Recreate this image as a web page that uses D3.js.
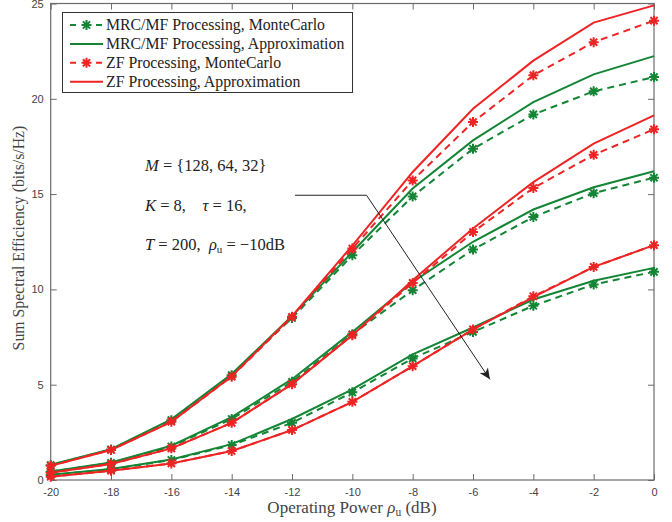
<!DOCTYPE html>
<html>
<head>
<meta charset="utf-8">
<script src="https://cdn.jsdelivr.net/npm/d3@7/dist/d3.min.js"></script>
<style>
body { margin: 0; background: #fff; }
text { white-space: pre; }
</style>
</head>
<body>
<svg id="chart" width="672" height="522"></svg>
<script>
// operating power (dB)
var power = [-20, -18, -16, -14, -12, -10, -8, -6, -4, -2, 0];
var xTicks = [-20, -18, -16, -14, -12, -10, -8, -6, -4, -2, 0];
var yTicks = [0, 5, 10, 15, 20, 25];

// M = 128
var mrcMC128 = [0.78, 1.6, 3.14, 5.5, 8.5, 11.79, 14.88, 17.38, 19.18, 20.39, 21.14];
var mrcAp128 = [0.8, 1.62, 3.18, 5.56, 8.6, 11.96, 15.29, 17.82, 19.83, 21.28, 22.24];
var zfMC128 = [0.75, 1.58, 3.06, 5.42, 8.56, 12.14, 15.72, 18.78, 21.23, 22.97, 24.1];
var zfAp128 = [0.74, 1.57, 3.05, 5.44, 8.6, 12.3, 16.16, 19.48, 22.0, 24.0, 24.9];
// M = 64
var mrcMC64 = [0.44, 0.9, 1.76, 3.2, 5.15, 7.65, 9.96, 12.09, 13.8, 15.05, 15.86];
var mrcAp64 = [0.45, 0.92, 1.8, 3.3, 5.29, 7.77, 10.39, 12.5, 14.19, 15.36, 16.2];
var zfMC64 = [0.38, 0.84, 1.66, 3.0, 5.03, 7.6, 10.34, 13.01, 15.32, 17.06, 18.4];
var zfAp64 = [0.38, 0.84, 1.66, 3.0, 5.03, 7.6, 10.48, 13.2, 15.63, 17.65, 19.13];
// M = 32
var mrcMC32 = [0.26, 0.56, 1.05, 1.83, 3.0, 4.6, 6.38, 7.77, 9.14, 10.26, 10.92];
var mrcAp32 = [0.27, 0.58, 1.08, 1.88, 3.2, 4.75, 6.59, 8.0, 9.47, 10.45, 11.13];
var zfMC32 = [0.17, 0.49, 0.87, 1.52, 2.62, 4.1, 5.97, 7.9, 9.64, 11.18, 12.32];
var zfAp32 = [0.17, 0.49, 0.87, 1.52, 2.62, 4.1, 5.97, 7.9, 9.6, 11.18, 12.32];

var legendNames = ["MRC/MF Processing, MonteCarlo", "MRC/MF Processing, Approximation",
    "ZF Processing, MonteCarlo", "ZF Processing, Approximation"];

// arrow in the middle (data coords)
var arrowPts = [[-11.9, 14.94], [-9.53, 14.94], [-5.44, 5.28]];

var green = "#138535", red = "#ee2424";
var styles = [
    {color: green, dash: true},
    {color: green, dash: false},
    {color: red, dash: true},
    {color: red, dash: false}
];
var groups = [
    [mrcMC128, mrcAp128, zfMC128, zfAp128],
    [mrcMC64, mrcAp64, zfMC64, zfAp64],
    [mrcMC32, mrcAp32, zfMC32, zfAp32]
];

// note: "top" is taken by window.top, so use pTop etc.
var pLeft = 50.7, pRight = 654, pTop = 3.5, pBottom = 480;
var svg = d3.select("#chart");

var x = d3.scaleLinear().domain([-20, 0]).range([pLeft, pRight]);
var y = d3.scaleLinear().domain([0, 25]).range([pBottom, pTop]);

var axisColor = "#6b6b6b";
var fmt = function(d) { return String(d); };

// axes, ticks inward on all four sides
function styleAxis(g) {
    g.select(".domain").remove();
    g.selectAll(".tick line").attr("stroke", axisColor);
    g.selectAll(".tick text").attr("fill", "#444")
        .attr("font-family", "Liberation Sans, Arial, sans-serif").attr("font-size", 11);
}
svg.append("g").attr("transform", "translate(0," + pBottom + ")")
    .call(d3.axisBottom(x).tickValues(xTicks).tickSize(-6).tickPadding(8).tickFormat(fmt))
    .call(styleAxis);
svg.append("g").attr("transform", "translate(0," + pTop + ")")
    .call(d3.axisTop(x).tickValues(xTicks).tickSize(-6).tickFormat(""))
    .call(styleAxis);
svg.append("g").attr("transform", "translate(" + pLeft + ",0)")
    .call(d3.axisLeft(y).tickValues(yTicks).tickSize(-6).tickPadding(7).tickFormat(fmt))
    .call(styleAxis);
svg.append("g").attr("transform", "translate(" + pRight + ",0)")
    .call(d3.axisRight(y).tickValues(yTicks).tickSize(-6).tickFormat(""))
    .call(styleAxis);

svg.append("rect")
    .attr("x", pLeft).attr("y", pTop)
    .attr("width", pRight - pLeft).attr("height", pBottom - pTop)
    .attr("fill", "none").attr("stroke", axisColor).attr("stroke-width", 1.2);

// asterisk marker (MATLAB '*')
function star(g, cx, cy, r, color) {
    var k = r * 0.72;
    var d = "M" + (cx - r) + "," + cy + "L" + (cx + r) + "," + cy +
        "M" + cx + "," + (cy - r) + "L" + cx + "," + (cy + r) +
        "M" + (cx - k) + "," + (cy - k) + "L" + (cx + k) + "," + (cy + k) +
        "M" + (cx - k) + "," + (cy + k) + "L" + (cx + k) + "," + (cy - k);
    g.append("path").attr("d", d).attr("stroke", color).attr("stroke-width", 2).attr("fill", "none");
}

var line = d3.line()
    .x(function(d, i) { return x(power[i]); })
    .y(function(d) { return y(d); });

var plot = svg.append("g");
for (var s = 0; s < 4; s++) {
    groups.forEach(function(grp) {
        var vals = grp[s];
        plot.append("path")
            .attr("d", line(vals))
            .attr("fill", "none")
            .attr("stroke", styles[s].color)
            .attr("stroke-width", 2)
            .attr("stroke-dasharray", styles[s].dash ? "7,5" : null);
        if (styles[s].dash) {
            vals.forEach(function(v, i) {
                star(plot, x(power[i]), y(v), 5, styles[s].color);
            });
        }
    });
}

// legend
var lg = svg.append("g");
lg.append("rect")
    .attr("x", 62.5).attr("y", 12.5).attr("width", 290).attr("height", 80)
    .attr("fill", "#fff").attr("stroke", "#333").attr("stroke-width", 1);
legendNames.forEach(function(name, i) {
    var ly = 25 + i * 18.9;
    lg.append("line")
        .attr("x1", 70).attr("x2", 103).attr("y1", ly).attr("y2", ly)
        .attr("stroke", styles[i].color).attr("stroke-width", 2)
        .attr("stroke-dasharray", styles[i].dash ? "6,7" : null);
    if (styles[i].dash) star(lg, 86.5, ly, 5, styles[i].color);
    lg.append("text")
        .attr("x", 106).attr("y", ly + 5)
        .attr("font-family", "Liberation Serif, Times New Roman, serif")
        .attr("font-size", 15.8).attr("fill", "#222")
        .text(name);
});

// axis labels
svg.append("text")
    .attr("transform", "translate(24,238) rotate(-90)")
    .attr("text-anchor", "middle")
    .attr("font-family", "Liberation Serif, Times New Roman, serif")
    .attr("font-size", 15.8).attr("fill", "#444")
    .text("Sum Spectral Efficiency (bits/s/Hz)");

var xl = svg.append("text")
    .attr("x", 352).attr("y", 513)
    .attr("text-anchor", "middle")
    .attr("font-family", "Liberation Serif, Times New Roman, serif")
    .attr("font-size", 17).attr("fill", "#444");
xl.append("tspan").text("Operating Power ");
xl.append("tspan").attr("font-style", "italic").text("ρ");
xl.append("tspan").attr("font-size", 11.5).attr("dy", 3).text("u");
xl.append("tspan").attr("dy", -3).text(" (dB)");

// annotation
var noteFont = "Liberation Serif, Times New Roman, serif";
function note(yy, parts) {
    var t = svg.append("text").attr("x", 145).attr("y", yy)
        .attr("font-family", noteFont).attr("font-size", 16.5).attr("fill", "#222");
    parts.forEach(function(p) {
        var ts = t.append("tspan").text(p[0]);
        if (p[1] == "i") ts.attr("font-style", "italic");
        if (p[1] == "sub") ts.attr("font-size", 11).attr("dy", 3);
        if (p[1] == "up") ts.attr("dy", -3);
    });
}
note(171, [["M", "i"], [" = {128, 64, 32}"]]);
note(211, [["K", "i"], [" = 8,    "], ["τ", "i"], [" = 16,"]]);
note(250, [["T", "i"], [" = 200,  "], ["ρ", "i"], ["u", "sub"], [" = −10dB", "up"]]);

// arrow
var ap = arrowPts.map(function(p) { return [x(p[0]), y(p[1])]; });
svg.append("path")
    .attr("d", d3.line()(ap))
    .attr("fill", "none").attr("stroke", "#222").attr("stroke-width", 1);
var a = ap[2], b = ap[1];
var ang = Math.atan2(a[1] - b[1], a[0] - b[0]) * 180 / Math.PI;
svg.append("path")
    .attr("d", "M0,0L-11,-5L-8,0L-11,5Z")
    .attr("transform", "translate(" + a[0] + "," + a[1] + ") rotate(" + ang + ")")
    .attr("fill", "#222");
</script>
</body>
</html>
